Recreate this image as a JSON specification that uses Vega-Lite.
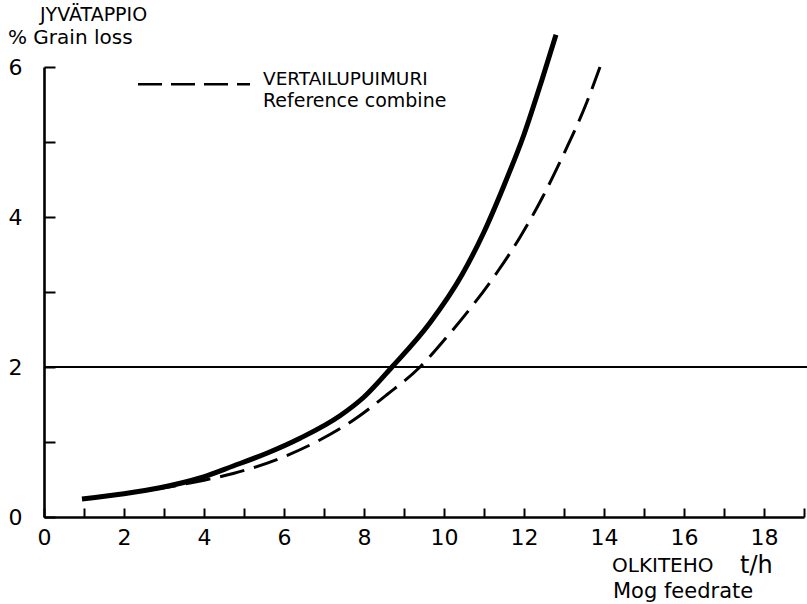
{
  "$schema": "https://vega.github.io/schema/vega-lite/v6.json",
  "width": 760,
  "height": 450,
  "autosize": {"type": "none"},
  "padding": {"left": 44, "top": 67, "right": 3, "bottom": 87},
  "background": "white",
  "config": {
    "view": {"stroke": null},
    "font": "DejaVu Sans",
    "text": {"font": "DejaVu Sans", "color": "black"}
  },
  "datasets": {
    "curves": [
      {"series": "Reference combine", "x": 0.95, "y": 0.24},
      {"series": "Reference combine", "x": 2, "y": 0.31},
      {"series": "Reference combine", "x": 3, "y": 0.39},
      {"series": "Reference combine", "x": 4, "y": 0.49},
      {"series": "Reference combine", "x": 4.73, "y": 0.58},
      {"series": "Reference combine", "x": 5.98, "y": 0.8},
      {"series": "Reference combine", "x": 6.8, "y": 1.0},
      {"series": "Reference combine", "x": 7.73, "y": 1.29},
      {"series": "Reference combine", "x": 8.57, "y": 1.63},
      {"series": "Reference combine", "x": 9.4, "y": 2.0},
      {"series": "Reference combine", "x": 10.07, "y": 2.4},
      {"series": "Reference combine", "x": 10.73, "y": 2.83},
      {"series": "Reference combine", "x": 11.35, "y": 3.28},
      {"series": "Reference combine", "x": 11.9, "y": 3.73},
      {"series": "Reference combine", "x": 12.45, "y": 4.25},
      {"series": "Reference combine", "x": 12.95, "y": 4.79},
      {"series": "Reference combine", "x": 13.57, "y": 5.53},
      {"series": "Reference combine", "x": 13.9, "y": 6.0},
      {"series": "Test combine", "x": 0.95, "y": 0.24},
      {"series": "Test combine", "x": 2, "y": 0.31},
      {"series": "Test combine", "x": 2.9, "y": 0.39},
      {"series": "Test combine", "x": 3.9, "y": 0.52},
      {"series": "Test combine", "x": 4.73, "y": 0.68},
      {"series": "Test combine", "x": 5.57, "y": 0.85},
      {"series": "Test combine", "x": 6.4, "y": 1.05},
      {"series": "Test combine", "x": 7.4, "y": 1.35},
      {"series": "Test combine", "x": 8.0, "y": 1.6},
      {"series": "Test combine", "x": 8.7, "y": 2.0},
      {"series": "Test combine", "x": 9.65, "y": 2.59},
      {"series": "Test combine", "x": 10.45, "y": 3.23},
      {"series": "Test combine", "x": 11.0, "y": 3.8},
      {"series": "Test combine", "x": 11.5, "y": 4.42},
      {"series": "Test combine", "x": 12.0, "y": 5.1},
      {"series": "Test combine", "x": 12.45, "y": 5.83},
      {"series": "Test combine", "x": 12.8, "y": 6.43}
    ]
  },
  "encoding": {
    "x": {
      "field": "x",
      "type": "quantitative",
      "scale": {"domain": [0, 19], "nice": false, "zero": false},
      "axis": {
        "title": null,
        "grid": false,
        "values": [0, 1, 2, 3, 4, 5, 6, 7, 8, 9, 10, 11, 12, 13, 14, 15, 16, 17, 18, 19],
        "labelExpr": "datum.value % 2 == 0 && datum.value < 19 ? datum.label : ''",
        "tickSize": -9,
        "tickWidth": 2,
        "tickColor": "black",
        "domainColor": "black",
        "domainWidth": 2.6,
        "labelPadding": 19,
        "labelFontSize": 22,
        "labelColor": "black",
        "labelFont": "DejaVu Sans",
        "labelOverlap": false,
        "labelFlush": false
      }
    },
    "y": {
      "field": "y",
      "type": "quantitative",
      "scale": {"domain": [0, 6], "nice": false},
      "axis": {
        "title": null,
        "grid": false,
        "values": [0, 1, 2, 3, 4, 5, 6],
        "labelExpr": "datum.value % 2 == 0 ? datum.label : ''",
        "tickSize": -11,
        "tickWidth": 2,
        "tickColor": "black",
        "domainColor": "black",
        "domainWidth": 2.6,
        "labelPadding": 33,
        "labelFontSize": 22,
        "labelColor": "black",
        "labelFont": "DejaVu Sans",
        "labelOverlap": false,
        "labelFlush": false
      }
    }
  },
  "layer": [
    {
      "data": {"values": [{"x": 0, "x2": 19.1, "y": 2}]},
      "mark": {"type": "rule", "color": "black", "strokeWidth": 2},
      "encoding": {"x2": {"field": "x2"}}
    },
    {
      "data": {"name": "curves"},
      "transform": [{"filter": "datum.series == 'Reference combine'"}],
      "mark": {"type": "line", "color": "black", "strokeWidth": 3, "strokeDash": [25, 10], "interpolate": "monotone", "strokeCap": "butt"}
    },
    {
      "data": {"name": "curves"},
      "transform": [{"filter": "datum.series == 'Test combine'"}],
      "mark": {"type": "line", "color": "black", "strokeWidth": 5, "interpolate": "monotone", "strokeCap": "butt"}
    },
    {
      "data": {"values": [{"x": 2.35, "x2": 5.15, "y": 5.77}]},
      "mark": {"type": "rule", "color": "black", "strokeWidth": 2.5, "strokeDash": [24, 9]},
      "encoding": {"x2": {"field": "x2"}}
    },
    {
      "data": {"values": [
        {"label": "JYVÄTAPPIO", "x": -0.1, "y": 6.613}
      ]},
      "mark": {"type": "text", "align": "left", "baseline": "alphabetic", "fontSize": 19},
      "encoding": {"text": {"field": "label"}}
    },
    {
      "data": {"values": [
        {"label": "OLKITEHO", "x": 14.2, "y": -0.733}
      ]},
      "mark": {"type": "text", "align": "left", "baseline": "alphabetic", "fontSize": 20},
      "encoding": {"text": {"field": "label"}}
    },
    {
      "data": {"values": [
        {"label": "% Grain loss", "x": -0.9, "y": 6.307}
      ]},
      "mark": {"type": "text", "align": "left", "baseline": "alphabetic", "fontSize": 20},
      "encoding": {"text": {"field": "label"}}
    },
    {
      "data": {"values": [
        {"label": "Mog feedrate", "x": 14.225, "y": -1.08}
      ]},
      "mark": {"type": "text", "align": "left", "baseline": "alphabetic", "fontSize": 21},
      "encoding": {"text": {"field": "label"}}
    },
    {
      "data": {"values": [{"label": "Reference combine", "x": 5.475, "y": 5.467}]},
      "mark": {"type": "text", "align": "left", "baseline": "alphabetic", "fontSize": 19},
      "encoding": {"text": {"field": "label"}}
    },
    {
      "data": {"values": [{"label": "VERTAILUPUIMURI", "x": 5.475, "y": 5.76}]},
      "mark": {"type": "text", "align": "left", "baseline": "alphabetic", "fontSize": 18.5},
      "encoding": {"text": {"field": "label"}}
    },
    {
      "data": {"values": [{"label": "t/h", "x": 17.4, "y": -0.747}]},
      "mark": {"type": "text", "align": "left", "baseline": "alphabetic", "fontSize": 24},
      "encoding": {"text": {"field": "label"}}
    }
  ]
}
